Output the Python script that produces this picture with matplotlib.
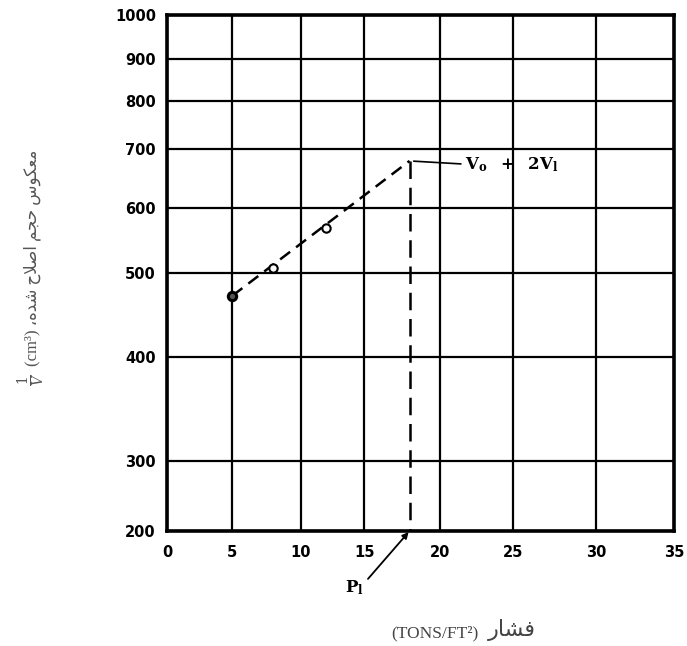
import numpy as np
import matplotlib.pyplot as plt

plt.rcParams['mathtext.fontset'] = 'dejavuserif'

# axis ticks
x_ticks = [0, 5, 10, 15, 20, 25, 30, 35]
y_ticks = [200, 300, 400, 500, 600, 700, 800, 900, 1000]
# the grid was ruled by hand, so lines are unevenly spaced (fraction of axis)
x_grid_frac = [0, 0.129, 0.264, 0.389, 0.538, 0.682, 0.847, 1.0]
y_grid_frac = [0, 0.136, 0.337, 0.500, 0.626, 0.740, 0.833, 0.915, 1.0]

# measured points
pressure = [5, 8, 12]
inv_volume = [473, 508, 569]
# extrapolated line up to the break point
line_p = [5, 18]
line_v = [473, 680]
p1 = 18
v_peak = 680

# Persian text in presentation forms, visual order (matplotlib does no shaping)
fa_pressure = "\uFEAD\uFE8E\uFEB8\uFED3"
fa_ylabel = "\u060C\uFEE9\uFEAA\uFEB7 \uFEA1\uFEFC\uFEBB\uFE8D \uFEE2\uFEA0\uFEA3 \uFEB1\uFEEE\uFB91\uFECC\uFEE3"


def fx(v):
    return np.interp(v, x_ticks, x_grid_frac)


def fx_inv(v):
    return np.interp(v, x_grid_frac, x_ticks)


def fy(v):
    return np.interp(v, y_ticks, y_grid_frac)


def fy_inv(v):
    return np.interp(v, y_grid_frac, y_ticks)


W, H = 687, 646
fig = plt.figure(figsize=(W / 100, H / 100), dpi=100)
ax = fig.add_axes([167 / W, 1 - 531 / H, (674 - 167) / W, (531 - 15) / H])
ax.set_xscale('function', functions=(fx, fx_inv))
ax.set_yscale('function', functions=(fy, fy_inv))
ax.set_xlim(0, 35)
ax.set_ylim(200, 1000)
ax.set_xticks(x_ticks)
ax.set_yticks(y_ticks)
ax.set_xticklabels([str(t) for t in x_ticks], fontweight='bold', fontsize=10.5)
ax.set_yticklabels([str(t) for t in y_ticks], fontweight='bold', fontsize=10.5)
ax.tick_params(axis='both', length=0)
ax.tick_params(axis='x', pad=10)
ax.tick_params(axis='y', pad=8)
ax.grid(True, color='black', lw=1.6)
for s in ax.spines.values():
    s.set_linewidth(2.6)

ax.plot(line_p, line_v, color='black', lw=1.8, ls=(0, (5, 3)))
ax.plot([p1, p1], [v_peak, 200], color='black', lw=1.8, ls=(0, (7, 3.5)))
ax.plot(pressure[:1], inv_volume[:1], 'o', ms=6, mfc='#555555', mec='black', mew=2.2, zorder=5)
ax.plot(pressure[1:], inv_volume[1:], 'o', ms=6, mfc='white', mec='black', mew=1.5, zorder=5)

ax.annotate(r"$\mathbf{V_o\ \ +\ \ 2V_l}$", xy=(p1, v_peak), xytext=(40, -3),
            textcoords='offset points', ha='left', va='center', fontsize=12,
            arrowprops=dict(arrowstyle='-', lw=1.2, color='black',
                            shrinkA=1, shrinkB=3, relpos=(0, 0.55)))
ax.annotate(r"$\mathbf{P_l}$", xy=(p1, 200), xytext=(-40, -41),
            textcoords='offset points', ha='center', va='center', fontsize=12,
            annotation_clip=False,
            arrowprops=dict(arrowstyle='-|>', lw=1.3, color='black', mutation_scale=9,
                            shrinkA=2, shrinkB=1, relpos=(1, 0.7)))

# axis titles
fig.text(478 / W, 1 - 633 / H, "(TONS/FT\u00b2)", ha='right', va='center',
         fontsize=12.5, color='#444444', family=['Liberation Serif', 'DejaVu Sans'])
fig.text(488 / W, 1 - 630 / H, fa_pressure, ha='left', va='center',
         fontsize=16, color='#444444', family=['DejaVu Sans'])

fig.text(32 / W, 1 - 380 / H, r"$\frac{1}{V}$", rotation=90, ha='center', va='center',
         fontsize=14, color='#555555')
fig.text(32 / W, 1 - 366 / H, "(cm\u00b3) " + fa_ylabel, rotation=90, ha='center',
         va='bottom', fontsize=12, color='#555555',
         family=['Liberation Serif', 'DejaVu Sans'])

fig.savefig('out.png', dpi=100)
